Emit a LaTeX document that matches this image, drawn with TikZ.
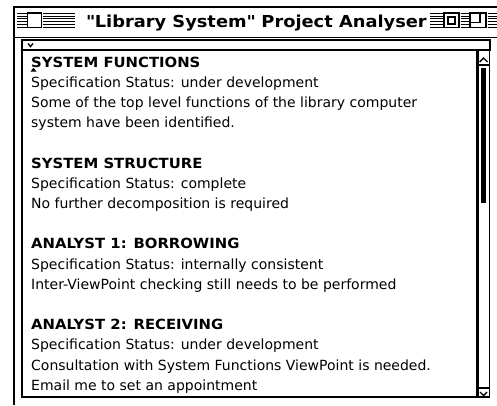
\documentclass[tikz,border=0pt]{standalone}
\usepackage{fontspec}
\newfontfamily\bodyfont{DejaVu Sans}
\newfontfamily\headfont[FakeStretch=1.06]{DejaVu Sans}
\newfontfamily\titlefont[FakeStretch=1.08]{DejaVu Sans}

\tikzset{
  body/.style={anchor=base west, inner sep=0pt, font=\bodyfont\fontsize{14}{16}\selectfont},
  head/.style={anchor=base west, inner sep=0pt, font=\headfont\bfseries\fontsize{14}{16}\selectfont},
  wintitle/.style={anchor=base west, inner sep=0pt, font=\titlefont\bfseries\fontsize{16.5}{18}\selectfont},
  frameline/.style={line width=1.4pt},
  stripe/.style={line width=1pt},
  iconbox/.style={line width=1.2pt, fill=white},
  chevron/.style={line width=1.4pt},
}

\begin{document}
\begin{tikzpicture}[x=1pt, y=-1pt]
  % page
  \fill[white] (0,0) rectangle (497,405);
  \useasboundingbox (0,0) rectangle (497,405);

  % window frame and title bar
  \draw[frameline] (497,7) -- (14,7) -- (14,405);
  \draw[frameline] (14,37.5) -- (497,37.5);

  % title bar stripes
  \foreach \s in {13.3,16.1,18.9,21.7,24.5,27.3}{
    \draw[stripe] (17,\s) -- (26.5,\s);
    \draw[stripe] (42.5,\s) -- (75,\s);
    \draw[stripe] (430,\s) -- (442.5,\s);
    \draw[stripe] (460.5,\s) -- (468.5,\s);
    \draw[stripe] (487.5,\s) -- (497,\s);
  }

  % close box
  \draw[iconbox] (27.5,13) rectangle (41.5,27.5);
  % zoom box
  \draw[iconbox] (444,13) rectangle (459,27.5);
  \draw[line width=1.2pt] (448,17) rectangle (455,24);
  % collapse box
  \draw[iconbox] (470,13) rectangle (486,27.5);
  \draw[line width=1.2pt] (480,13) -- (480,22.5) -- (470,22.5);

  % window title
  \node[wintitle] (title) at (86,27.5) {\textquotedbl Library System\textquotedbl{} Project Analyser};

  % entry field
  \draw[line width=1.2pt] (22,40) rectangle (490,50);
  \draw[line width=2pt] (22,50) -- (490,50);
  \draw[chevron] (28,43.5) -- (30.5,46.5) -- (33,43.5);

  % text panel
  \draw[line width=1.4pt] (22,50) rectangle (489.5,397);

  % scroll bar
  \draw[line width=2.5pt] (477.5,50) -- (477.5,397);
  \draw[line width=1.6pt] (477.5,65) -- (489.5,65);
  \draw[line width=1.6pt] (477.5,388) -- (489.5,388);
  \fill[black] (481,68) rectangle (486,203);
  \draw[chevron] (479.5,62) -- (483.5,58) -- (487.5,62);
  \draw[chevron] (480,392) -- (483.5,395.5) -- (487,392);

  % insertion caret
  \fill[black] (30.5,71.5) -- (36.5,71.5) -- (33.5,67.8) -- cycle;

  % panel text
  \node[head] (h1) at (31,67) {SYSTEM FUNCTIONS};
  \node[body] (a1) at (31,87.2) {Specification Status: under development};
  \node[body] (a2) at (31,107.4) {Some of the top level functions of the library computer};
  \node[body] (a3) at (31,127.6) {system have been identified.};

  \node[head] (h2) at (31,168) {SYSTEM STRUCTURE};
  \node[body] (b1) at (31,188.2) {Specification Status: complete};
  \node[body] (b2) at (31,208.4) {No further decomposition is required};

  \node[head] (h3) at (31,248.8) {ANALYST 1: BORROWING};
  \node[body] (c1) at (31,269) {Specification Status: internally consistent};
  \node[body] (c2) at (31,289.2) {Inter-ViewPoint checking still needs to be performed};

  \node[head] (h4) at (31,329.6) {ANALYST 2: RECEIVING};
  \node[body] (d1) at (31,349.8) {Specification Status: under development};
  \node[body] (d2) at (31,370) {Consultation with System Functions ViewPoint is needed.};
  \node[body] (d3) at (31,390.2) {Email me to set an appointment};
\end{tikzpicture}
\end{document}
